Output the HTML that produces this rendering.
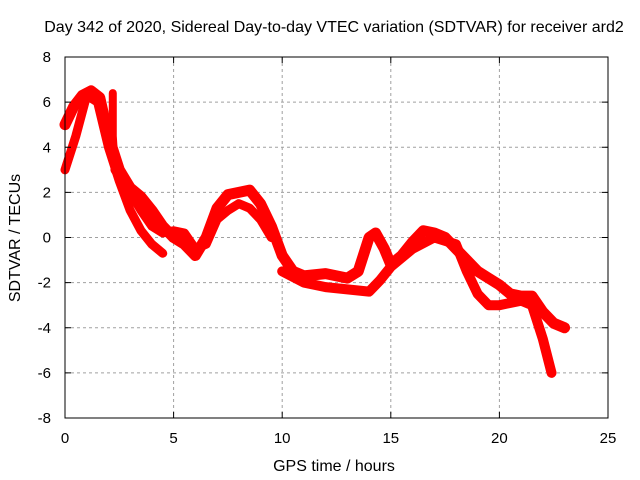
<!DOCTYPE html>
<html><head><meta charset="utf-8"><style>
body{margin:0;background:#fff}
svg{display:block;font-family:"Liberation Sans",sans-serif}
</style></head><body>
<svg width="640" height="480" viewBox="0 0 640 480">
<text x="334" y="32" text-anchor="middle" font-size="16">Day 342 of 2020, Sidereal Day-to-day VTEC variation (SDTVAR) for receiver ard2</text>
<g id="grid"></g>
<g id="marks"></g>
<rect x="65" y="57" width="543" height="361" fill="none" stroke="#000" stroke-width="1"/>
<g id="ticks"></g>
<text x="334" y="471" text-anchor="middle" font-size="16">GPS time / hours</text>
<text transform="translate(20,238) rotate(-90)" text-anchor="middle" font-size="16">SDTVAR / TECUs</text>
</svg>
<script>
const xTicks=[0,5,10,15,20,25];
const yTicks=[-8,-6,-4,-2,0,2,4,6,8];
const seriesA_t=[0,0.4,0.8,1.2,1.6,2,2.5,3,3.5,4,4.5,5,5.5,6,6.5,7,7.5,8,8.5,9,9.5,10,10.5,11,12,13,13.5,14,14.3,14.7,15,15.5,16,16.5,17,17.5,18,18.5,19,19.5,20,20.5,21,21.5,22,22.5,23];
const seriesA_v=[5,5.8,6.3,6.5,6.2,4.5,3,2.2,1.8,1.2,0.5,0,-0.3,-0.8,0,1.3,1.9,2,2.1,1.5,0.5,-0.8,-1.5,-1.7,-1.6,-1.8,-1.5,0,0.2,-0.5,-1.2,-0.8,-0.2,0.3,0.2,0,-0.5,-1,-1.5,-1.8,-2.1,-2.5,-2.6,-2.6,-3.3,-3.8,-4];
const seriesB_t=[0,0.5,1,1.5,2,2.5,3,3.5,4,4.5];
const seriesB_v=[3,4.5,6.3,6,4,2.5,1.2,0.3,-0.3,-0.7];
const seriesC_t=[2.3,3,3.5,4,4.5,5,5.5,6,6.5,7,7.5,8,8.5,9,9.5];
const seriesC_v=[3,2,1.2,0.5,0.2,0.3,0.2,-0.5,-0.3,0.8,1.2,1.5,1.3,0.8,0];
const seriesD_t=[10,11,12,13,14,14.5,15,16,17,18,18.5,19,19.5,20,21,21.5,22,22.4];
const seriesD_v=[-1.5,-2,-2.2,-2.3,-2.4,-1.9,-1.3,-0.5,0,-0.3,-1.5,-2.5,-3,-3,-2.8,-3,-4.5,-6];
const seriesE_t=[2.2,2.2,2.3];
const seriesE_v=[6.4,4.5,3];
const X=t=>65+t*543/25, Y=v=>237.5-v*361/16;
const NS='http://www.w3.org/2000/svg';
const grid=document.getElementById('grid'),ticks=document.getElementById('ticks'),marks=document.getElementById('marks');
function mk(tag,attrs,parent){const e=document.createElementNS(NS,tag);for(const k in attrs)e.setAttribute(k,attrs[k]);parent.appendChild(e);return e;}
xTicks.forEach(t=>{
 if(t>0&&t<25){const g=mk('line',{x1:X(t),x2:X(t),y1:57,y2:418,stroke:'#a0a0a0','stroke-dasharray':'3,3'},grid);
 
 }
 mk('line',{x1:X(t),x2:X(t),y1:418,y2:412,stroke:'#000'},ticks);
 mk('line',{x1:X(t),x2:X(t),y1:57,y2:63,stroke:'#000'},ticks);
 const l=mk('text',{x:X(t),y:443,'text-anchor':'middle','font-size':15},ticks);l.textContent=t;
 
 
});
yTicks.forEach(v=>{
 if(v>-8&&v<8){const g=mk('line',{x1:65,x2:608,y1:Y(v),y2:Y(v),stroke:'#a0a0a0','stroke-dasharray':'3,3'},grid);
 
 }
 mk('line',{x1:65,x2:71,y1:Y(v),y2:Y(v),stroke:'#000'},ticks);
 mk('line',{x1:608,x2:602,y1:Y(v),y2:Y(v),stroke:'#000'},ticks);
 const l=mk('text',{x:51,y:Y(v)+5,'text-anchor':'end','font-size':15},ticks);l.textContent=v;
 
 
});
[[seriesA_t,seriesA_v,'series-a',11],[seriesB_t,seriesB_v,'series-b',9],[seriesC_t,seriesC_v,'series-c',9],[seriesD_t,seriesD_v,'series-d',10],[seriesE_t,seriesE_v,'series-e',8]].forEach(([ts,vs,name,w])=>{
 const pts=ts.map((t,i)=>X(t)+','+Y(vs[i])).join(' ');
 const p=mk('polyline',{points:pts,fill:'none',stroke:'#ff0000','stroke-width':w,'stroke-linejoin':'round','stroke-linecap':'round'},marks);
 
 
});
</script>
</body></html>
